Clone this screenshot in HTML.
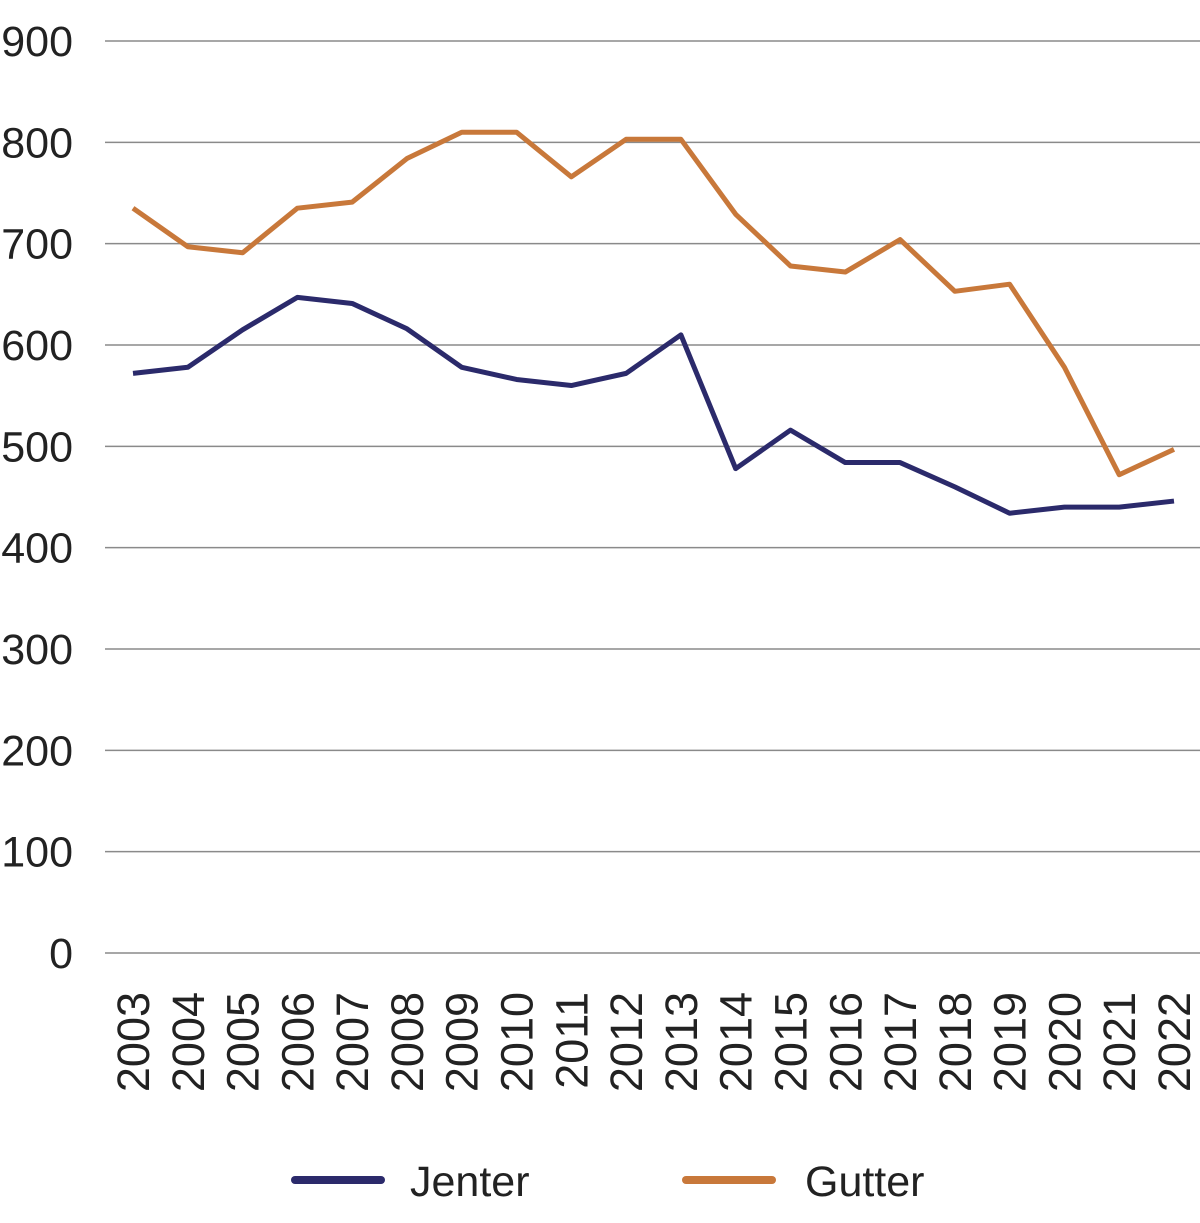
<!DOCTYPE html>
<html><head><meta charset="utf-8">
<style>
html,body{margin:0;padding:0;background:#fff;}
svg{display:block;font-family:"Liberation Sans",sans-serif;}
</style></head>
<body>
<svg id="chart" width="1200" height="1223" viewBox="0 0 1200 1223" xmlns="http://www.w3.org/2000/svg"></svg>
<script>
const years = ["2003","2004","2005","2006","2007","2008","2009","2010","2011","2012","2013","2014","2015","2016","2017","2018","2019","2020","2021","2022"];
const jenter = [572,578,615,647,641,616,578,566,560,572,610,478,516,484,484,460,434,440,440,446];
const gutter = [735,697,691,735,741,784,810,810,766,803,803,729,678,672,704,653,660,578,472,497];
const yTicks = [0,100,200,300,400,500,600,700,800,900];

const svg = document.getElementById('chart');
const NS = 'http://www.w3.org/2000/svg';
const y = v => 953 - v * (953 - 41) / 900;
const x = i => 133 + i * (1174 - 133) / (years.length - 1);
function mk(tag, attrs){const e=document.createElementNS(NS,tag);for(const k in attrs)e.setAttribute(k,attrs[k]);svg.appendChild(e);return e;}

yTicks.forEach(t=>{
  const l = mk('line',{x1:105,x2:1200,y1:y(t),y2:y(t),stroke:'#8a8a8a','stroke-width':1.5});
  
  
  const tx = mk('text',{x:73,y:y(t)+15,'text-anchor':'end','font-size':43,fill:'#222'});
  tx.textContent = t;
  
  
});

years.forEach((yr,i)=>{
  const tx = mk('text',{x:0,y:0,'text-anchor':'end','font-size':45,fill:'#222',transform:`translate(${x(i)+16},992) rotate(-90)`});
  tx.textContent = yr;
  
  
});

function series(vals,color,name){
  const p = mk('polyline',{points:vals.map((v,i)=>x(i)+','+y(v)).join(' '),fill:'none',stroke:color,'stroke-width':5,'stroke-linejoin':'round'});
  
  
}
series(gutter,'#c8783a','series-gutter');
series(jenter,'#2b2a6b','series-jenter');

const l1 = mk('line',{x1:295,x2:381,y1:1180,y2:1180,stroke:'#2b2a6b','stroke-width':8,'stroke-linecap':'round'});


const t1 = mk('text',{x:410,y:1196,'font-size':43,fill:'#222'});
t1.textContent='Jenter';


const l2 = mk('line',{x1:686,x2:772,y1:1180,y2:1180,stroke:'#c8783a','stroke-width':8,'stroke-linecap':'round'});


const t2 = mk('text',{x:805,y:1196,'font-size':43,fill:'#222'});
t2.textContent='Gutter';


</script>
</body></html>
